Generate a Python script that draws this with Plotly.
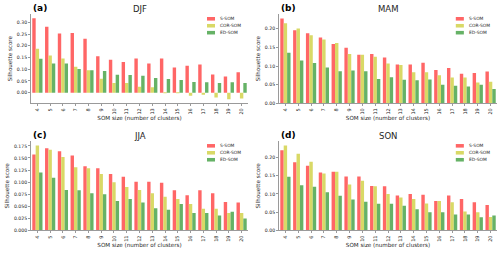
import plotly.graph_objects as go

sizes = [str(s) for s in range(4, 21)]
series_names = ["S-SOM", "COR-SOM", "ED-SOM"]

djf_s = [0.318, 0.282, 0.253, 0.255, 0.230, 0.155, 0.141, 0.131, 0.146, 0.124, 0.146, 0.107, 0.115, 0.120, 0.077, 0.069, 0.087]
djf_cor = [0.187, 0.159, 0.146, 0.111, 0.096, 0.059, 0.041, 0.041, 0.025, 0.023, 0.001, -0.002, -0.013, -0.009, -0.021, -0.028, -0.025]
djf_ed = [0.145, 0.124, 0.125, 0.101, 0.096, 0.092, 0.076, 0.075, 0.072, 0.063, 0.058, 0.054, 0.045, 0.044, 0.041, 0.044, 0.041]

mam_s = [0.228, 0.196, 0.188, 0.177, 0.159, 0.149, 0.130, 0.132, 0.123, 0.104, 0.104, 0.109, 0.089, 0.095, 0.079, 0.081, 0.085]
mam_cor = [0.215, 0.201, 0.183, 0.171, 0.162, 0.132, 0.130, 0.125, 0.107, 0.103, 0.083, 0.083, 0.075, 0.069, 0.069, 0.056, 0.058]
mam_ed = [0.136, 0.115, 0.108, 0.096, 0.086, 0.088, 0.086, 0.065, 0.070, 0.063, 0.062, 0.064, 0.050, 0.047, 0.045, 0.050, 0.038]

jja_s = [0.157, 0.170, 0.164, 0.155, 0.133, 0.129, 0.117, 0.111, 0.101, 0.101, 0.099, 0.083, 0.073, 0.083, 0.077, 0.059, 0.058]
jja_cor = [0.176, 0.167, 0.152, 0.131, 0.129, 0.117, 0.100, 0.090, 0.084, 0.077, 0.070, 0.065, 0.055, 0.045, 0.045, 0.036, 0.036]
jja_ed = [0.120, 0.109, 0.084, 0.083, 0.077, 0.075, 0.061, 0.065, 0.058, 0.046, 0.043, 0.055, 0.036, 0.036, 0.031, 0.039, 0.025]

son_s = [0.220, 0.187, 0.177, 0.159, 0.161, 0.148, 0.148, 0.122, 0.121, 0.096, 0.100, 0.098, 0.081, 0.096, 0.086, 0.077, 0.070]
son_cor = [0.233, 0.210, 0.188, 0.156, 0.161, 0.126, 0.136, 0.121, 0.100, 0.090, 0.086, 0.074, 0.081, 0.077, 0.052, 0.050, 0.037]
son_ed = [0.147, 0.124, 0.120, 0.105, 0.095, 0.085, 0.079, 0.073, 0.073, 0.068, 0.058, 0.050, 0.050, 0.044, 0.044, 0.036, 0.041]

panels = [
    ("(a)", "DJF", [djf_s, djf_cor, djf_ed], 0.05, ".2f"),
    ("(b)", "MAM", [mam_s, mam_cor, mam_ed], 0.05, ".2f"),
    ("(c)", "JJA", [jja_s, jja_cor, jja_ed], 0.025, ".3f"),
    ("(d)", "SON", [son_s, son_cor, son_ed], 0.05, ".2f"),
]
colors = ["#ff6666", "#d9d966", "#66b266"]

xdomains = [[0.062, 0.496], [0.558, 0.994], [0.062, 0.496], [0.558, 0.994]]
ydomains = [[0.592, 0.944], [0.592, 0.944], [0.089, 0.442], [0.089, 0.442]]

FONT = "DejaVu Sans"
TXT = "#262626"
fig = go.Figure()
layout = dict(
    width=500, height=256, margin=dict(l=0, r=0, t=0, b=0),
    paper_bgcolor="white", plot_bgcolor="white",
    barmode="group", bargap=0.2, bargroupgap=0.0,
    showlegend=False, font=dict(family=FONT, color=TXT),
)
annotations = []
shapes = []
for i, (lab, title, vals, dt, fmt) in enumerate(panels):
    n = i + 1
    xa = "x" if n == 1 else f"x{n}"
    ya = "y" if n == 1 else f"y{n}"
    for name, v, c in zip(series_names, vals, colors):
        fig.add_trace(go.Bar(x=sizes, y=v, name=name, marker=dict(color=c, line=dict(width=0)),
                             xaxis=xa, yaxis=ya))
    allv = [a for s in vals for a in s]
    vmin = min(0, min(allv))
    vmax = max(allv)
    rng = vmax - vmin
    lo = vmin - 0.05 * rng if vmin < 0 else 0
    hi = vmax + 0.05 * rng
    layout["xaxis" if n == 1 else f"xaxis{n}"] = dict(
        domain=xdomains[i], anchor=ya, type="category", range=[-0.5, 16.5],
        showline=True, linecolor="#9a9a9a", linewidth=1, showgrid=False, zeroline=False,
        ticks="outside", ticklen=2, tickcolor="#9a9a9a", tickangle=-90,
        tickfont=dict(size=5, family=FONT, color=TXT),
        title=dict(text="SOM size (number of clusters)", font=dict(size=5.6, family=FONT, color=TXT), standoff=2),
    )
    layout["yaxis" if n == 1 else f"yaxis{n}"] = dict(
        domain=ydomains[i], anchor=xa, range=[lo, hi],
        showline=True, linecolor="#9a9a9a", linewidth=1, showgrid=False, zeroline=False,
        ticks="outside", ticklen=2, tickcolor="#9a9a9a", dtick=dt, tick0=0, tickformat=fmt,
        tickfont=dict(size=4.6, family=FONT, color=TXT),
        title=dict(text="Silhouette score", font=dict(size=5.6, family=FONT, color=TXT), standoff=3),
    )
    annotations.append(dict(text=f"<b>{lab}</b>", xref=f"{xa} domain", yref=f"{ya} domain",
                            x=0, y=1.0, xanchor="left", yanchor="bottom", showarrow=False,
                            font=dict(size=9, family=FONT, color="black"), yshift=-1))
    annotations.append(dict(text=title, xref=f"{xa} domain", yref=f"{ya} domain",
                            x=0.5, y=1.0, xanchor="center", yanchor="bottom", showarrow=False,
                            font=dict(size=8.5, family=FONT, color=TXT), yshift=-2))
    for k, (name, c) in enumerate(zip(series_names, colors)):
        yc = 0.948 - k * 0.078
        shapes.append(dict(type="rect", xref=f"{xa} domain", yref=f"{ya} domain",
                           x0=0.811, x1=0.848, y0=yc - 0.02, y1=yc + 0.02,
                           fillcolor=c, line=dict(width=0)))
        annotations.append(dict(text=name, xref=f"{xa} domain", yref=f"{ya} domain",
                                x=0.862, y=yc, xanchor="left", yanchor="middle", showarrow=False,
                                font=dict(size=4.4, family=FONT, color=TXT)))
layout["annotations"] = annotations
layout["shapes"] = shapes
fig.update_layout(**layout)
fig.write_html("out.html", config={"displayModeBar": False},
               post_script="document.body.style.margin='0';document.body.style.overflow='hidden';")
